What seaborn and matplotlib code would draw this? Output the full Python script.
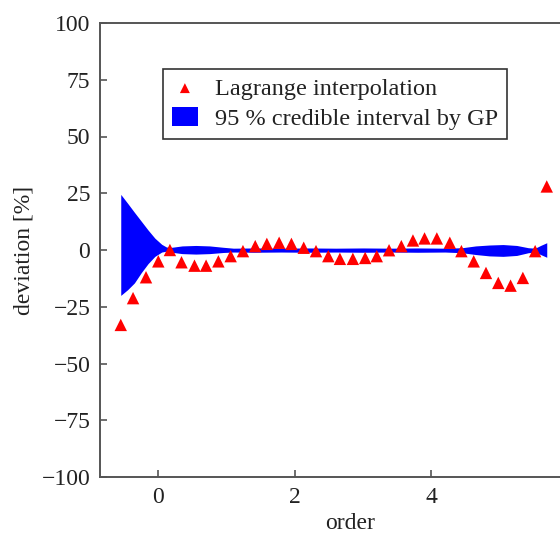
import numpy as np
import matplotlib
matplotlib.use("Agg")
import matplotlib.pyplot as plt
import seaborn as sns

# Lagrange interpolation deviation (red triangles)
order = [-0.55, -0.37, -0.18, 0.0, 0.17, 0.34, 0.53, 0.70, 0.88, 1.06, 1.24, 1.42,
         1.59, 1.77, 1.95, 2.13, 2.31, 2.49, 2.66, 2.85, 3.03, 3.20, 3.38, 3.56,
         3.73, 3.90, 4.08, 4.27, 4.44, 4.62, 4.80, 4.98, 5.16, 5.34, 5.52, 5.69]
deviation = [-33.0, -21.2, -12.0, -5.0, 0.0, -5.4, -6.9, -6.9, -5.0, -2.7, -0.5, 1.7,
             2.7, 3.2, 2.7, 1.0, -0.5, -2.7, -3.9, -3.9, -3.5, -2.7, -0.1, 1.7,
             4.2, 5.1, 5.1, 3.2, -0.5, -5.0, -10.1, -14.5, -15.7, -12.3, -0.5, 28.0]

# GP 95 % credible interval (blue band)
band_x = [-0.55, -0.45, -0.35, -0.25, -0.15, -0.05, 0.05, 0.12, 0.2, 0.35, 0.55, 0.75,
          0.95, 1.1, 1.4, 1.8, 2.2, 2.6, 3.0, 3.4, 3.8, 4.2, 4.45, 4.65, 4.85, 5.05,
          5.25, 5.42, 5.52, 5.6, 5.69]
band_hi = [24.5, 20.6, 16.6, 12.7, 8.8, 5.2, 2.5, 1.3, 1.2, 1.8, 2.0, 1.8,
           1.2, 0.8, 0.9, 0.8, 0.9, 0.8, 0.9, 0.8, 0.9, 0.8, 1.0, 1.8, 2.2, 2.4,
           2.0, 1.0, 0.8, 2.0, 3.2]
band_lo = [-20.0, -17.5, -14.5, -10.0, -6.0, -2.8, -0.9, -0.5, -1.0, -1.6, -1.8, -1.6,
           -1.1, -0.9, -1.0, -0.9, -1.0, -0.9, -1.0, -0.9, -1.0, -0.9, -1.2, -2.0, -2.6, -2.8,
           -2.4, -1.2, -0.9, -2.0, -3.2]

sns.set_style("ticks")
plt.rcParams["font.family"] = ["Liberation Serif", "DejaVu Serif"]

fig = plt.figure(figsize=(5.6, 5.36), dpi=100)
ax = fig.add_axes([100 / 560, 59 / 536, 500 / 560, 454 / 536])

ax.fill_between(band_x, band_lo, band_hi, color="#0000ff", lw=0,
                label="95 % credible interval by GP", zorder=2)
sns.scatterplot(x=order, y=deviation, marker="^", color="#ff0000", s=80,
                edgecolor="none", label="Lagrange interpolation", ax=ax, zorder=3)

ax.set_xlim(-0.854, 6.47)
ax.set_ylim(-100, 100)
ax.set_xticks([0, 2, 4])
ax.set_yticks(np.arange(-100, 101, 25))
ax.set_xlabel("order", fontsize=17, color="#222222", labelpad=4)
ax.set_ylabel("deviation [%]", fontsize=17, color="#222222", labelpad=5)
ax.tick_params(direction="in", length=5, width=1.2, colors="#555555",
               labelsize=17, labelcolor="#222222", top=False, right=False)
ax.tick_params(axis="y", pad=7)
ax.tick_params(axis="x", pad=7)
for sp in ax.spines.values():
    sp.set_color("#555555")
    sp.set_linewidth(1.4)

handles, labels = ax.get_legend_handles_labels()
order_idx = [labels.index("Lagrange interpolation"), labels.index("95 % credible interval by GP")]
leg = ax.legend([handles[i] for i in order_idx], [labels[i] for i in order_idx],
                loc="upper left", bbox_to_anchor=(0.126, 0.899), borderaxespad=0,
                fontsize=17.5, fancybox=False, framealpha=1, edgecolor="#333333",
                handlelength=1.1, handleheight=0.8, handletextpad=0.7,
                borderpad=0.35, labelspacing=0.3, markerscale=0.8)
leg.get_frame().set_linewidth(1.2)
for t in leg.get_texts():
    t.set_color("#222222")

fig.savefig("out.png", dpi=100)
